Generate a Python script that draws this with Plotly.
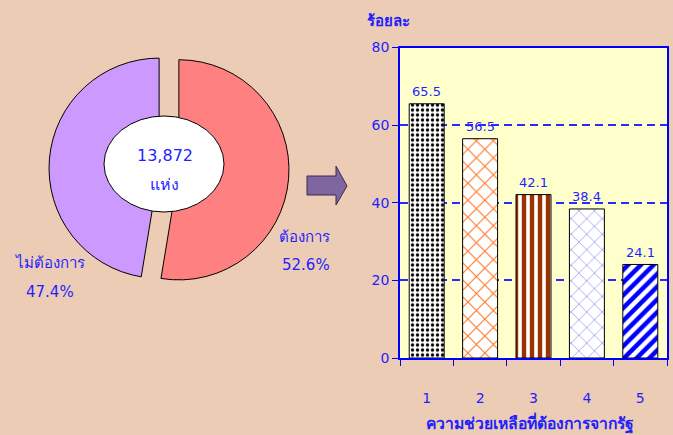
import plotly.graph_objects as go

# ---- data ----
pie_labels = ["ต้องการ", "ไม่ต้องการ"]
pie_values = [52.6, 47.4]
pie_colors = ["#FF8080", "#CC99FF"]
total_label = "13,872"
total_unit = "แห่ง"

bar_categories = ["1", "2", "3", "4", "5"]
bar_values = [65.5, 56.5, 42.1, 38.4, 24.1]
bar_shapes = [".", "x", "|", "x", "/"]
bar_fg = ["#000000", "#FF7A2A", "#993300", "#A8A8F5", "#0000FF"]
bar_size = [5, 12, 8, 11, 9]
bar_solidity = [0.35, 0.18, 0.55, 0.16, 0.5]

y_title = "ร้อยละ"
x_title = "ความช่วยเหลือที่ต้องการจากรัฐ"

W, H = 673, 435
BG = "#ECCCB4"
BLUE = "#0000FF"
TXT = "#1F1FFF"
FONT = "Tahoma, DejaVu Sans, Noto Sans, sans-serif"

def px(x):
    return x / W

def py(y):
    return (H - y) / H

fig = go.Figure()

fig.add_trace(go.Pie(
    labels=pie_labels, values=pie_values, sort=False, direction="clockwise",
    rotation=0, pull=[0.09, 0.09], textinfo="none", hoverinfo="label+percent",
    marker=dict(colors=pie_colors, line=dict(color="#000000", width=1)),
    domain=dict(x=[px(169 - 120), px(169 + 120)], y=[py(169 + 120), py(169 - 120)]),
    showlegend=False,
))

fig.add_trace(go.Bar(
    x=bar_categories, y=bar_values, width=0.655,
    marker=dict(
        color="#FFFFFF",
        line=dict(color="#000000", width=1),
        pattern=dict(shape=bar_shapes, fgcolor=bar_fg, bgcolor="#FFFFFF",
                     fgopacity=1, size=bar_size, solidity=bar_solidity),
    ),
    xaxis="x", yaxis="y", showlegend=False,
))

def ann(x, y, text, size):
    return dict(x=px(x), y=py(y), xref="paper", yref="paper", text=text,
                xanchor="center", yanchor="middle", showarrow=False,
                font=dict(family=FONT, size=size, color=TXT))

annotations = []
for i, v in enumerate(bar_values):
    annotations.append(dict(x=i, y=v, xref="x", yref="y", text=f"{v:.1f}",
                            xanchor="center", yanchor="middle", yshift=12,
                            showarrow=False,
                            font=dict(family=FONT, size=13, color=TXT)))

annotations += [
    ann(304, 237, pie_labels[0], 15),
    ann(306, 265, f"{pie_values[0]}%", 15),
    ann(50, 263, pie_labels[1], 15),
    ann(50, 292, f"{pie_values[1]}%", 15),
    ann(165, 155, total_label, 16),
    ann(164, 184, total_unit, 16),
    ann(389, 21, f"<b>{y_title}</b>", 15),
    ann(530, 423, f"<b>{x_title}</b>", 15.7),
]

shapes = [
    dict(type="circle", xref="paper", yref="paper",
         x0=px(104), x1=px(224), y0=py(212), y1=py(116),
         fillcolor="#FFFFFF", line=dict(color="#000000", width=1), layer="above"),
    dict(type="path", xref="paper", yref="paper",
         path=(f"M {px(307)} {py(176)} L {px(336)} {py(176)} L {px(336)} {py(166)} "
               f"L {px(347)} {py(186)} L {px(336)} {py(205)} L {px(336)} {py(195)} "
               f"L {px(307)} {py(195)} Z"),
         fillcolor="#7F66A0", line=dict(color="#3A2A50", width=1)),
]

fig.update_layout(
    width=W, height=H, margin=dict(l=0, r=0, t=0, b=0, autoexpand=False),
    paper_bgcolor=BG, plot_bgcolor="#FFFFCC",
    bargap=0.345,
    annotations=annotations, shapes=shapes,
    xaxis=dict(domain=[px(400), px(667)], type="category", automargin=False,
               showline=True, linecolor=BLUE, linewidth=1.5, mirror=True,
               ticks="outside", tickson="boundaries", ticklen=6, tickcolor=BLUE,
               tickfont=dict(family=FONT, size=14, color=TXT),
               ticklabelstandoff=26, showgrid=False),
    yaxis=dict(domain=[py(358), py(47.5)], range=[0, 80], dtick=20, automargin=False,
               showline=True, linecolor=BLUE, linewidth=1.5, mirror=True,
               ticks="outside", ticklen=6, tickcolor=BLUE,
               tickfont=dict(family=FONT, size=14, color=TXT),
               showgrid=True, gridcolor="#2A2AFF", griddash="8px,5px", gridwidth=1.5,
               zeroline=False),
)

fig.write_html(
    "out.html",
    config={"displayModeBar": False},
    post_script=("document.documentElement.style.margin='0';"
                 "document.documentElement.style.overflow='hidden';"
                 "document.body.style.margin='0';"
                 "document.body.style.overflow='hidden';"),
)
